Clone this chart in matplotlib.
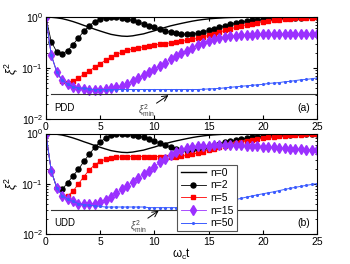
import numpy as np
import matplotlib
matplotlib.use("Agg")
import matplotlib.pyplot as plt

plt.rcParams['font.family'] = ['Liberation Sans', 'DejaVu Sans']
plt.rcParams['mathtext.fontset'] = 'custom'
plt.rcParams['mathtext.rm'] = 'Liberation Sans'
plt.rcParams['mathtext.it'] = 'Liberation Sans:italic'

# time grid, omega_c t
t = np.arange(0, 25.01, 0.5)

# free evolution (same in both panels)
n0 = [1.0, 0.995, 0.97, 0.935, 0.88, 0.82, 0.755, 0.69, 0.635, 0.58,
      0.535, 0.495, 0.46, 0.44, 0.425, 0.42, 0.43, 0.45, 0.47, 0.505,
      0.54, 0.585, 0.63, 0.675, 0.715, 0.755, 0.795, 0.835, 0.87, 0.9,
      0.925, 0.945, 0.96, 0.975, 0.985, 0.99, 0.995, 0.997, 0.998, 0.999,
      1.0, 1.0, 1.0, 1.0, 1.0, 1.0, 1.0, 1.0, 1.0, 1.0, 1.0]

# PDD
pdd_n2 = [1.0, 0.33, 0.21, 0.19, 0.22, 0.29, 0.39, 0.53, 0.68, 0.82,
          0.92, 0.97, 1.0, 0.99, 0.96, 0.91, 0.86, 0.8, 0.74, 0.68,
          0.63, 0.58, 0.54, 0.51, 0.48, 0.47, 0.46, 0.465, 0.48, 0.51,
          0.55, 0.59, 0.63, 0.68, 0.72, 0.76, 0.8, 0.83, 0.86, 0.88,
          0.9, 0.92, 0.93, 0.945, 0.955, 0.965, 0.97, 0.98, 0.985, 0.99, 0.99]
pdd_n5 = [1.0, 0.18, 0.085, 0.056, 0.051, 0.055, 0.064, 0.075, 0.088, 0.104,
          0.122, 0.142, 0.165, 0.185, 0.205, 0.222, 0.237, 0.25, 0.262, 0.273,
          0.283, 0.293, 0.303, 0.313, 0.324, 0.336, 0.35, 0.366, 0.385, 0.41,
          0.44, 0.475, 0.51, 0.55, 0.59, 0.63, 0.67, 0.71, 0.75, 0.78,
          0.81, 0.84, 0.87, 0.89, 0.91, 0.93, 0.95, 0.96, 0.97, 0.98, 0.985]
pdd_n15 = [1.0, 0.18, 0.085, 0.058, 0.049, 0.043, 0.040, 0.039, 0.038, 0.038,
           0.038, 0.039, 0.040, 0.042, 0.045, 0.049, 0.055, 0.063, 0.072, 0.083,
           0.096, 0.11, 0.128, 0.148, 0.17, 0.195, 0.22, 0.25, 0.28, 0.31,
           0.34, 0.37, 0.39, 0.41, 0.425, 0.435, 0.445, 0.45, 0.455, 0.46,
           0.46, 0.46, 0.46, 0.46, 0.46, 0.46, 0.46, 0.46, 0.46, 0.46, 0.46]
pdd_n50 = [1.0, 0.18, 0.085, 0.058, 0.049, 0.043, 0.041, 0.040, 0.039, 0.038,
           0.038, 0.038, 0.038, 0.038, 0.038, 0.038, 0.038, 0.038, 0.038, 0.038,
           0.038, 0.038, 0.038, 0.038, 0.038, 0.038, 0.038, 0.038, 0.038, 0.0385,
           0.039, 0.0395, 0.040, 0.041, 0.042, 0.043, 0.044, 0.045, 0.046, 0.047,
           0.048, 0.050, 0.051, 0.052, 0.054, 0.055, 0.057, 0.059, 0.060, 0.062, 0.064]

# UDD
udd_n2 = [1.0, 0.18, 0.085, 0.078, 0.105, 0.145, 0.195, 0.28, 0.39, 0.53,
          0.68, 0.82, 0.93, 0.99, 1.0, 0.99, 0.95, 0.9, 0.84, 0.78,
          0.71, 0.65, 0.59, 0.54, 0.5, 0.48, 0.47, 0.47, 0.49, 0.52,
          0.55, 0.59, 0.63, 0.67, 0.71, 0.75, 0.78, 0.81, 0.84, 0.87,
          0.89, 0.91, 0.92, 0.935, 0.945, 0.955, 0.965, 0.97, 0.98, 0.985, 0.99]
udd_n5 = [1.0, 0.18, 0.085, 0.059, 0.058, 0.072, 0.10, 0.14, 0.19, 0.24,
          0.28, 0.31, 0.33, 0.34, 0.345, 0.35, 0.35, 0.35, 0.35, 0.35,
          0.35, 0.35, 0.35, 0.35, 0.35, 0.355, 0.37, 0.39, 0.41, 0.44,
          0.47, 0.5, 0.54, 0.58, 0.61, 0.65, 0.68, 0.72, 0.75, 0.78,
          0.81, 0.84, 0.86, 0.88, 0.9, 0.92, 0.94, 0.95, 0.96, 0.97, 0.98]
udd_n15 = [1.0, 0.18, 0.085, 0.059, 0.050, 0.045, 0.041, 0.040, 0.040, 0.041,
           0.044, 0.049, 0.056, 0.066, 0.078, 0.093, 0.11, 0.13, 0.155, 0.185,
           0.22, 0.27, 0.32, 0.38, 0.43, 0.48, 0.51, 0.54, 0.56, 0.57,
           0.58, 0.59, 0.595, 0.6, 0.6, 0.595, 0.59, 0.58, 0.57, 0.56,
           0.55, 0.54, 0.53, 0.52, 0.51, 0.50, 0.49, 0.485, 0.48, 0.475, 0.47]
udd_n50 = [1.0, 0.18, 0.085, 0.059, 0.050, 0.045, 0.041, 0.039, 0.038, 0.037,
           0.036, 0.035, 0.035, 0.035, 0.035, 0.035, 0.035, 0.035, 0.035, 0.034,
           0.034, 0.034, 0.034, 0.034, 0.034, 0.034, 0.034, 0.035, 0.036, 0.037,
           0.038, 0.040, 0.042, 0.044, 0.046, 0.049, 0.052, 0.055, 0.058, 0.061,
           0.064, 0.067, 0.070, 0.074, 0.078, 0.082, 0.086, 0.090, 0.094, 0.098, 0.102]

xi_min = 0.031

labels = ['n=0', 'n=2', 'n=5', 'n=15', 'n=50']
purple = '#9b30ff'
blue = '#3c5cff'


def draw_panel(ax, n2, n5, n15, n50, tag, name, lab_pos, arrow):
    ax.plot(t, n0, color='black', lw=1.0, label=labels[0])
    ax.plot(t, n2, color='black', lw=0.6, marker='o', ms=3.6, label=labels[1])
    ax.plot(t, n5, color='red', lw=0.6, marker='s', ms=2.8, label=labels[2])
    ax.plot(t, n15, color=purple, lw=0.6, marker='d', ms=5, label=labels[3])
    ax.plot(t, n50, color=blue, lw=0.7, marker='.', ms=2.5, label=labels[4])
    ax.plot([0.5, 25], [xi_min, xi_min], color='#333333', lw=0.8)

    ax.set_yscale('log')
    ax.set_xlim(0, 25)
    ax.set_ylim(1e-2, 1)
    ax.set_xticks([0, 5, 10, 15, 20, 25])
    ax.tick_params(which='both', direction='in', top=True, right=True,
                   labelsize=7.5, pad=2)
    ax.tick_params(which='major', length=3)
    ax.tick_params(which='minor', length=1.5)
    ax.set_ylabel(r'$\xi^2$', fontsize=9, labelpad=1)

    ax.text(0.8, 0.0165, name, fontsize=7, va='center')
    ax.text(24.4, 0.0165, tag, fontsize=7.5, va='center', ha='right')
    ax.text(lab_pos[0], lab_pos[1], r'$\xi^2_{\rm min}$', fontsize=7,
            color='#444444', ha='center', va='center')
    ax.annotate('', xy=arrow[1], xytext=arrow[0],
                arrowprops=dict(arrowstyle='->', color='black', lw=0.7,
                                shrinkA=0, shrinkB=0))


fig = plt.figure(figsize=(3.5, 2.64), dpi=100)
ax1 = fig.add_axes([0.131, 0.549, 0.775, 0.386])
ax2 = fig.add_axes([0.131, 0.112, 0.775, 0.382])

draw_panel(ax1, pdd_n2, pdd_n5, pdd_n15, pdd_n50, '(a)', 'PDD',
           (9.3, 0.0145), ((10.2, 0.0205), (11.3, 0.0295)))
draw_panel(ax2, udd_n2, udd_n5, udd_n15, udd_n50, '(b)', 'UDD',
           (8.5, 0.0145), ((9.4, 0.021), (10.4, 0.0295)))

ax2.set_xlabel(r'$\mathregular{\omega_c t}$', fontsize=8.5, labelpad=0)

leg = ax2.legend(loc='lower left', bbox_to_anchor=(0.485, 0.03), fontsize=7.5,
                 frameon=True, fancybox=False, edgecolor='#555555',
                 framealpha=1, handlelength=2.4, labelspacing=0.25,
                 borderpad=0.3, handletextpad=0.5, borderaxespad=0)
leg.get_frame().set_linewidth(0.8)

fig.savefig('out.png', dpi=100)
